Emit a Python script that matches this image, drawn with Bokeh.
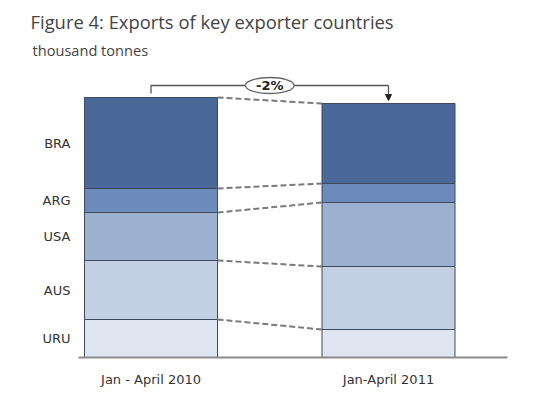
from bokeh.plotting import figure
from bokeh.models import (ColumnDataSource, Range1d, FixedTicker, Title, Arrow,
                          NormalHead)
from bokeh.embed import file_html
from bokeh.resources import INLINE

# ---- data (thousand tonnes) ----
periods = ["Jan - April 2010", "Jan-April 2011"]
countries = ["URU", "AUS", "USA", "ARG", "BRA"]
uru = [38, 28]
aus = [59, 63]
usa = [48, 64]
arg = [24, 19]
bra = [91, 80]
change_label = "-2%"

colors = ["#dfe5f0", "#c3cfe2", "#9cb0d0", "#6c8bba", "#4a6999"]

xpos = [1, 2]
bar_w = 0.56

src = ColumnDataSource(dict(x=xpos, URU=uru, AUS=aus, USA=usa, ARG=arg, BRA=bra))

p = figure(width=542, height=390, output_backend="svg", toolbar_location=None,
           x_range=Range1d(0.6947, 2.501), y_range=Range1d(0, 297),
           min_border_left=78, min_border_right=35, min_border_top=60,
           min_border_bottom=33)
p.outline_line_color = None
p.border_fill_color = "white"
p.grid.grid_line_color = None
p.background_fill_color = "white"

p.vbar_stack(countries, x="x", width=bar_w, source=src, fill_color=colors,
             line_color="#3f4a5c", line_width=1)

series = [uru, aus, usa, arg, bra]
cum1, cum2, c1, c2 = [], [], 0, 0
mids1 = []
for s in series:
    mids1.append(c1 + s[0] / 2)
    c1 += s[0]
    c2 += s[1]
    cum1.append(c1)
    cum2.append(c2)
p.segment(x0=[xpos[0] + bar_w / 2] * 5, y0=cum1,
          x1=[xpos[1] - bar_w / 2] * 5, y1=cum2,
          line_color="#7a7a7a", line_width=2, line_dash="6 3")

top1, top2 = cum1[-1], cum2[-1]
by = top1 + 12
p.line(x=[xpos[0], xpos[0], xpos[1]], y=[top1 + 4, by, by], line_color="#555555",
       line_width=1.3)
p.add_layout(Arrow(end=NormalHead(size=6, fill_color="#222222", line_color="#222222"),
                   x_start=xpos[1], y_start=by, x_end=xpos[1], y_end=top2 + 3,
                   line_color="#555555", line_width=1.3))
mx = (xpos[0] + xpos[1]) / 2
p.ellipse(x=[mx], y=[by], width=0.205, height=16, fill_color="white",
          line_color="#666666", line_width=1.3)
p.text(x=[mx], y=[by], text=[change_label], text_align="center",
       text_baseline="middle", text_font_size="13px", text_font_style="bold",
       text_color="#222222", text_font={"value": "DejaVu Sans"})

p.xaxis.ticker = FixedTicker(ticks=xpos)
p.xaxis.major_label_overrides = {xpos[i]: periods[i] for i in range(2)}
p.xaxis.axis_line_color = "#8c8c8c"
p.xaxis.axis_line_width = 2
p.xaxis.major_tick_line_color = None
p.xaxis.minor_tick_line_color = None
p.xaxis.major_label_standoff = 8
p.xaxis.axis_label_standoff = 0
p.xaxis.major_label_text_font = "DejaVu Sans"
p.xaxis.major_label_text_font_size = "13px"
p.xaxis.major_label_text_color = "#333333"

p.yaxis.ticker = FixedTicker(ticks=mids1)
p.yaxis.major_label_overrides = {mids1[i]: countries[i] for i in range(5)}
p.yaxis.axis_line_color = None
p.yaxis.major_tick_line_color = None
p.yaxis.minor_tick_line_color = None
p.yaxis.major_label_standoff = 2
p.yaxis.major_label_text_font = "DejaVu Sans"
p.yaxis.major_label_text_font_size = "13px"
p.yaxis.major_label_text_color = "#333333"

p.add_layout(Title(text="thousand tonnes", align="left", offset=-46, standoff=2,
                   text_font="Open Sans", text_font_size="14.6px",
                   text_font_style="normal", text_color="#444444"), "above")
p.add_layout(Title(text="Figure 4: Exports of key exporter countries", align="left",
                   offset=-48, standoff=5, text_font="Open Sans",
                   text_font_size="18.4px", text_font_style="normal",
                   text_color="#444444"), "above")

open("out.html", "w").write(file_html(p, INLINE))
